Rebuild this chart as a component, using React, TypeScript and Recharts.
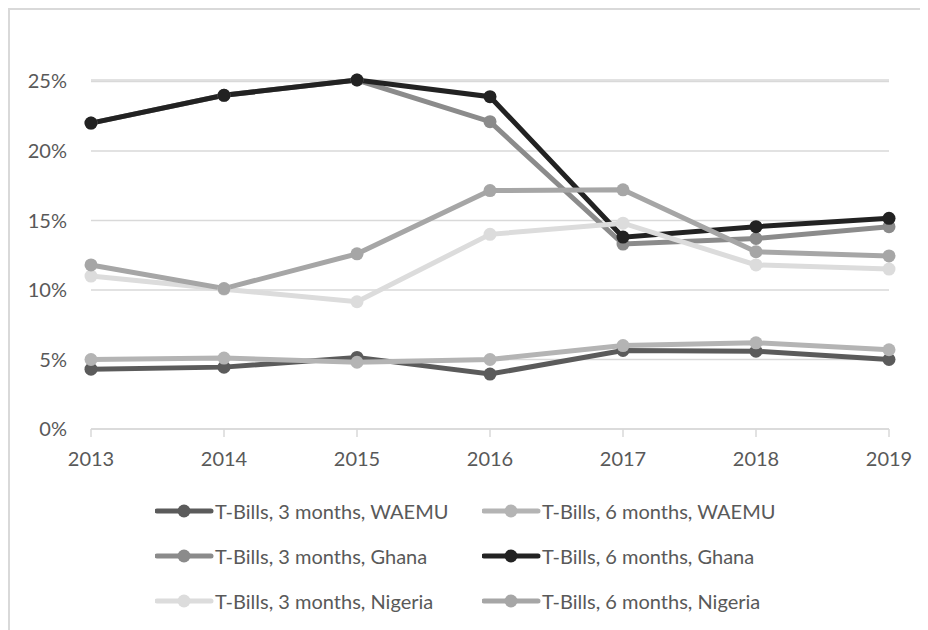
import { LineChart, Line, XAxis, YAxis, CartesianGrid, Legend } from "recharts"

const years = ["2013", "2014", "2015", "2016", "2017", "2018", "2019"]

const waemu3m = [4.3, 4.45, 5.15, 3.95, 5.65, 5.6, 5.0]
const waemu6m = [5.0, 5.1, 4.8, 5.0, 6.0, 6.2, 5.7]
const ghana3m = [22.0, 24.0, 25.1, 22.1, 13.3, 13.7, 14.55]
const ghana6m = [22.0, 24.0, 25.1, 23.9, 13.8, 14.55, 15.15]
const nigeria3m = [11.0, 10.05, 9.15, 14.0, 14.8, 11.8, 11.5]
const nigeria6m = [11.8, 10.1, 12.6, 17.15, 17.2, 12.75, 12.45]

const yTicks = [0, 5, 10, 15, 20, 25]

const series = [
  { key: "waemu3m", name: "T-Bills, 3 months, WAEMU", color: "#5b5b5b", values: waemu3m },
  { key: "waemu6m", name: "T-Bills, 6 months, WAEMU", color: "#b4b4b4", values: waemu6m },
  { key: "ghana3m", name: "T-Bills, 3 months, Ghana", color: "#8b8b8b", values: ghana3m },
  { key: "ghana6m", name: "T-Bills, 6 months, Ghana", color: "#222222", values: ghana6m },
  { key: "nigeria3m", name: "T-Bills, 3 months, Nigeria", color: "#dcdcdc", values: nigeria3m },
  { key: "nigeria6m", name: "T-Bills, 6 months, Nigeria", color: "#a6a6a6", values: nigeria6m },
]

const data = years.map((year, i) => {
  const row: Record<string, string | number> = { year }
  series.forEach((s) => {
    row[s.key] = s.values[i]
  })
  return row
})

const font = "Lato, 'Open Sans', sans-serif"

function LegendContent() {
  return (
    <div
      style={{
        display: "grid",
        gridTemplateColumns: "327px 327px",
        rowGap: 20,
        paddingTop: 18,
        fontFamily: font,
        fontSize: 20,
        color: "#595959",
      }}
    >
      {series.map((s) => (
        <div key={s.key} style={{ display: "flex", alignItems: "center", height: 25 }}>
          <svg width={60} height={16} style={{ flexShrink: 0 }}>
            <line x1={2} y1={8} x2={56} y2={8} stroke={s.color} strokeWidth={5} strokeLinecap="round" />
            <circle cx={29} cy={8} r={6.5} fill={s.color} />
          </svg>
          <span style={{ whiteSpace: "nowrap" }}>{s.name}</span>
        </div>
      ))}
    </div>
  )
}

export default function App() {
  return (
    <div
      style={{
        width: 920,
        height: 622,
        borderTop: "2px solid #d9d9d9",
        borderLeft: "2px solid #d9d9d9",
        boxSizing: "border-box",
        background: "#fff",
      }}
    >
      <LineChart
        width={918}
        height={620}
        data={data}
        margin={{ top: 70, right: 39, left: 0, bottom: 0 }}
      >
        <CartesianGrid vertical={false} stroke="#d9d9d9" strokeWidth={1.5} />
        <XAxis
          dataKey="year"
          padding={{ left: 0, right: 0 }}
          stroke="#d9d9d9"
          strokeWidth={1.5}
          tickSize={8}
          tickMargin={15}
          height={51}
          tick={{ fill: "#595959", fontSize: 20, fontFamily: font }}
        />
        <YAxis
          domain={[0, 25]}
          ticks={yTicks}
          tickFormatter={(v) => `${v}%`}
          axisLine={false}
          tickLine={false}
          tickSize={0}
          tickMargin={24}
          width={81}
          tick={{ fill: "#595959", fontSize: 20, fontFamily: font }}
        />
        <Legend
          verticalAlign="bottom"
          height={150}
          content={() => <LegendContent />}
          wrapperStyle={{ left: 145, width: 700 }}
        />
        {series.map((s) => (
          <Line
            key={s.key}
            dataKey={s.key}
            name={s.name}
            stroke={s.color}
            strokeWidth={5}
            dot={{ r: 6.5, fill: s.color, stroke: s.color, strokeWidth: 0 }}
            activeDot={false}
            isAnimationActive={false}
          />
        ))}
      </LineChart>
    </div>
  )
}
